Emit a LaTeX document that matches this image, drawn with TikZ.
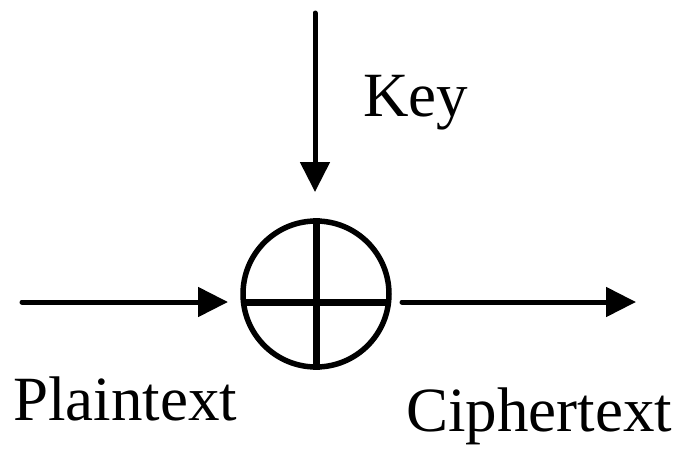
\documentclass[tikz,border=0pt]{standalone}
\usepackage{fontspec}
\setmainfont{Liberation Serif}
\usetikzlibrary{arrows.meta}
\begin{document}
\begin{tikzpicture}[x=1pt,y=-1pt,
  flow/.style={line width=5pt,line cap=round,-{Triangle[length=30pt,width=29pt]}},
  label/.style={inner sep=0pt,anchor=base west,font=\fontsize{63}{70}\selectfont},
  xorbox/.style={circle,draw,line width=5.5pt,minimum size=146pt,inner sep=0pt},
  cross/.style={line width=7pt}]
\useasboundingbox (0,0) rectangle (683,453);
\node[xorbox] (xor) at (316,294) {};
\coordinate (hl) at (241,302);
\coordinate (hr) at (391,302);
\draw[cross] (hl) -- (hr);
\draw[cross] (xor.north) -- (xor.south);
\coordinate (pin) at (22,302);
\coordinate (pout) at (228,302);
\coordinate (cin) at (402,302);
\coordinate (cout) at (636,302);
\coordinate (kin) at (315,13);
\coordinate (kout) at (315,192);
\draw[flow] (pin) -- (pout);
\draw[flow] (cin) -- (cout);
\draw[flow] (kin) -- (kout);
\node[label] (key) at (363,116) {Key};
\node[label] (plain) at (13,420) {Plaintext};
\node[label] (cipher) at (406,431) {Ciphertext};
\end{tikzpicture}
\end{document}
